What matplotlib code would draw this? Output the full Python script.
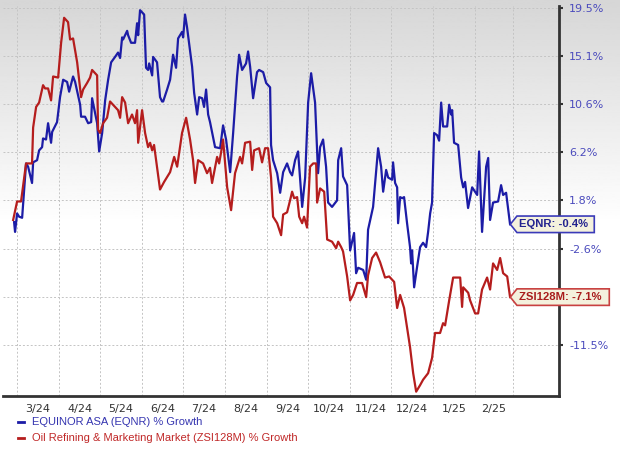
import numpy as np
import pandas as pd
import matplotlib
matplotlib.use('Agg')
import matplotlib.pyplot as plt
from matplotlib.patches import Polygon
from matplotlib.lines import Line2D

# days since 2024-03-01, % growth
eqnr_days = [-2.2, -1.5, 0, 1.5, 3.7, 6.6, 8.1, 11.0, 11.8, 14.7, 16.2, 18.4, 19.1, 21.3, 22.8, 25.0, 25.8,
             29.4, 31.6, 33.9, 36.8, 38.3, 41.2, 42.7, 46.4, 47.1, 50.0, 52.3, 54.5, 55.2, 58.9, 60.4, 62.6,
             64.8, 67.0, 69.2, 72.1, 74.3, 75.8, 77.3, 78.0, 81.0, 81.7, 83.9, 86.8, 88.3, 89.1, 90.5, 93.5,
             94.9, 96.4, 97.2, 99.4, 100.1, 103.0, 105.2, 106.7, 107.5, 110.4, 112.6, 114.8, 117.0, 118.5,
             121.4, 122.2, 123.6, 125.1, 128.8, 130.3, 132.5, 134.0, 136.2, 137.6, 139.1, 140.6, 142.0,
             145.7, 149.4, 151.6, 153.8, 156.8, 159.0, 161.9, 163.4, 165.6, 168.5, 170.0, 171.5, 173.7,
             176.6, 178.1, 181.1, 183.3, 186.2, 186.9, 188.4, 191.4, 193.6, 195.8, 198.7, 200.9, 202.4,
             204.6, 206.8, 209.8, 212.0, 214.2, 216.4, 219.3, 221.5, 223.0, 225.2, 227.4, 228.9, 231.8,
             235.5, 236.3, 238.5, 239.9, 242.9, 245.1, 248.0, 249.5, 251.0, 254.7, 256.9, 258.3, 262.0,
             265.7, 267.9, 269.4, 271.6, 273.1, 276.0, 276.7, 278.2, 279.7, 280.4, 281.9, 283.4, 284.8,
             287.0, 289.2, 290.0, 290.7, 292.2, 294.4, 296.6, 298.8, 301.0, 302.5, 304.0, 305.4, 306.9,
             309.1, 310.6, 312.1, 313.5, 316.5, 318.0, 319.4, 320.2, 321.6, 324.6, 326.8, 328.3, 329.7,
             331.9, 334.9, 338.6, 340.0, 342.2, 345.2, 346.7, 348.1, 350.3, 354.0, 356.2, 357.7, 359.9, 362.8]
eqnr = [-0.2, -1.1, 0.6, 0.3, 0.2, 5.2, 4.9, 3.4, 5.3, 5.5, 6.4, 6.7, 7.5, 7.4, 8.9, 7.1, 8.1,
        9.0, 11.3, 12.9, 12.7, 11.8, 13.2, 12.7, 10.6, 9.5, 9.5, 8.9, 9.0, 11.2, 8.9, 6.3, 8.0,
        11.0, 12.9, 14.5, 15.0, 15.4, 14.9, 16.8, 16.6, 17.4, 17.0, 16.3, 16.3, 18.1, 17.0, 19.3, 18.9,
        14.0, 13.8, 14.4, 13.3, 15.0, 14.5, 11.3, 10.9, 10.9, 12.0, 12.9, 15.2, 14.0, 16.7,
        17.3, 16.8, 18.9, 17.7, 14.1, 11.7, 9.7, 11.3, 11.2, 10.4, 12.0, 9.7, 9.0,
        6.7, 6.6, 8.7, 7.4, 4.4, 8.0, 13.2, 15.2, 13.8, 14.4, 15.5, 14.1, 11.2,
        13.6, 13.8, 13.6, 12.6, 12.2, 6.9, 5.5, 4.3, 2.5, 4.4, 5.2, 4.4, 4.1,
        5.5, 6.3, 1.2, 3.9, 10.8, 13.5, 10.8, 4.3, 6.7, 7.4, 4.9, 1.6, 1.2,
        1.8, 5.5, 6.6, 4.0, 3.2, -2.8, -1.2, -4.9, -4.4, -4.6, -5.5, -0.9, 1.2,
        6.6, 4.9, 2.6, 4.6, 3.9, 3.7, 5.3, 3.4, 3.0, -0.3, 2.1, 2.0, 2.1,
        -0.3, -2.5, -4.0, -2.8, -6.2, -4.3, -2.5, -2.1, -2.5, -1.1, 0.6, 1.6, 8.0,
        7.8, 7.3, 10.8, 8.6, 8.6, 10.6, 9.7, 10.1, 7.1, 6.9, 3.9, 3.0, 3.5,
        1.1, 3.0, 2.3, 6.3, -1.1, 4.9, 5.7, 0.0, 1.6, 1.7, 3.2, 2.3, 2.5, -0.4]

zsi_days = [-2.9, 0, 2.9, 6.6, 11.0, 11.8, 14.0, 16.2, 19.1, 20.6, 22.8, 25.0, 26.5, 30.2, 32.4, 34.6,
            37.5, 39.0, 41.2, 44.2, 47.1, 48.6, 51.5, 53.7, 55.2, 58.9, 59.6, 61.1, 63.3, 66.2, 68.4,
            72.1, 74.3, 75.8, 77.3, 79.5, 81.7, 84.6, 86.8, 88.3, 89.1, 92.0, 94.2, 96.4, 97.9, 99.4,
            100.8, 105.2, 108.2, 111.1, 112.6, 114.1, 115.6, 117.8, 121.4, 124.4, 127.3, 129.5, 131.0,
            133.2, 136.9, 139.8, 142.0, 143.5, 147.2, 148.7, 150.1, 151.6, 154.6, 157.5, 160.4, 164.1,
            165.6, 167.8, 171.5, 173.0, 174.4, 178.1, 180.3, 182.5, 184.7, 186.9, 188.4, 191.4, 194.3,
            195.8, 198.7, 200.9, 202.4, 203.9, 206.1, 207.6, 209.8, 211.2, 213.4, 215.6, 217.9, 220.1,
            220.8, 223.0, 226.0, 228.2, 231.8, 234.8, 236.3, 238.5, 239.9, 242.9, 245.1, 247.3, 250.2,
            253.9, 256.9, 258.3, 261.3, 264.2, 267.2, 270.8, 273.8, 277.5, 279.7, 281.9, 284.8, 287.0,
            289.2, 291.5, 293.7, 296.6, 298.8, 302.5, 305.4, 307.6, 311.3, 313.5, 315.0, 318.0, 320.9,
            326.1, 327.5, 328.3, 332.0, 333.4, 337.1, 339.3, 342.2, 345.9, 348.1, 350.3, 353.3, 355.5,
            357.7, 360.7, 362.8]
zsi = [0.0, 1.7, 1.7, 5.2, 5.2, 8.5, 10.4, 10.8, 12.4, 12.1, 12.1, 11.0, 13.2, 13.1, 16.3, 18.6,
       18.2, 16.6, 16.7, 14.5, 11.3, 12.0, 12.6, 13.1, 13.8, 13.3, 8.3, 8.0, 8.9, 9.4, 10.9,
       10.4, 10.1, 9.4, 11.3, 10.8, 8.9, 9.7, 8.9, 10.1, 7.1, 10.1, 8.0, 6.7, 7.1, 6.4,
       6.9, 2.8, 3.5, 4.1, 4.4, 5.1, 5.8, 4.9, 8.0, 9.4, 7.4, 5.5, 3.4,
       5.5, 5.2, 4.3, 4.8, 3.4, 5.8, 5.2, 6.2, 7.4, 3.0, 0.9, 4.3, 5.8,
       5.2, 7.1, 7.2, 4.6, 6.4, 6.6, 5.3, 6.6, 6.6, 3.9, 0.3, -0.3, -1.4,
       0.5, 0.7, 1.8, 2.6, 2.0, 2.1, 0.3, -0.3, 0.3, -0.7, 4.9, 5.2, 5.2,
       1.6, 2.9, 2.6, -1.8, -2.0, -2.6, -2.0, -2.5, -2.9, -5.2, -7.4, -6.9, -5.8,
       -5.8, -7.1, -5.1, -3.5, -3.0, -3.9, -5.3, -5.2, -5.7, -8.1, -6.9, -8.1, -9.9,
       -11.7, -14.1, -15.8, -15.2, -14.7, -14.1, -12.7, -10.4, -10.4, -9.5, -9.7, -7.4, -5.3,
       -5.3, -8.0, -6.2, -6.7, -7.4, -8.6, -8.6, -6.4, -5.3, -6.4, -4.0, -4.6, -3.5,
       -4.9, -5.2, -7.1]

ytick_vals = [-11.5, -7.07, -2.64, 1.79, 6.21, 10.64, 15.07, 19.5]
ytick_labels = ['-11.5%', '', '-2.6%', '1.8%', '6.2%', '10.6%', '15.1%', '19.5%']
month_labels = ['3/24', '4/24', '5/24', '6/24', '7/24', '8/24', '9/24', '10/24', '11/24', '12/24', '1/25', '2/25']

blue = '#1c1ca6'
red = '#b51d1d'

base = pd.Timestamp('2024-03-01')
month_starts = (pd.date_range('2024-03-01', '2025-03-01', freq='MS') - base).days.values.astype(float)
month_mids = (month_starts[:-1] + month_starts[1:]) / 2

fig = plt.figure(figsize=(6.2, 4.49), dpi=100)

# grey-to-white background
bg = fig.add_axes([0, 0, 1, 1], zorder=0)
grad = np.clip(0.84 + 0.16 * np.linspace(0, 1, 300) / 0.5, 0, 1).reshape(-1, 1)
bg.imshow(grad, aspect='auto', extent=[0, 1, 0, 1], cmap='gray', vmin=0, vmax=1)
bg.axis('off')

ax = fig.add_axes([0.005, 0.118, 0.897, 0.869], zorder=1)
ax.set_facecolor('none')

ax.plot(eqnr_days, eqnr, color=blue, lw=1.6, zorder=3)
ax.plot(zsi_days, zsi, color=red, lw=1.6, zorder=3)

ax.set_xlim(-10.3, 399)
ax.set_ylim(-16.2, 19.7)

ax.set_xticks(month_starts)
ax.set_xticklabels([])
ax.set_xticks(month_mids, minor=True)
ax.set_xticklabels(month_labels, minor=True)
ax.tick_params(axis='x', which='both', length=0, pad=6, labelsize=8, labelcolor='#333333')

ax.yaxis.tick_right()
ax.set_yticks(ytick_vals)
ax.set_yticklabels(ytick_labels)
ax.tick_params(axis='y', length=3, width=1.5, color='#333333', pad=4, labelsize=8, labelcolor='#4b4bbd')

ax.grid(True, which='major', color='#c4c4c4', linestyle=(0, (2, 2)), linewidth=0.7)
for s in ['left', 'top']:
    ax.spines[s].set_visible(False)
for s in ['right', 'bottom']:
    ax.spines[s].set_color('#333333')
    ax.spines[s].set_linewidth(2)

# end-value tags
def tag(yval, width, text, ec, tc):
    trans = ax.get_yaxis_transform()
    h = 0.76
    x0, x1 = 0.912, 0.924
    pts = [(x0, yval), (x1, yval + h), (x0 + width, yval + h), (x0 + width, yval - h), (x1, yval - h)]
    ax.add_patch(Polygon(pts, closed=True, transform=trans, facecolor='#f4f1dd', edgecolor=ec,
                         lw=1.2, clip_on=False, zorder=5))
    ax.text(x1 + 0.004, yval, text, transform=trans, ha='left', va='center', fontsize=8.1,
            fontweight='bold', color=tc, family='Liberation Sans', zorder=6, clip_on=False)

tag(eqnr[-1], 0.151, 'EQNR: -0.4%', '#3a3ab8', '#22228f')
tag(zsi[-1], 0.178, 'ZSI128M: -7.1%', '#c84040', '#a81c1c')

# legend
fig.add_artist(Line2D([18 / 620, 24 / 620], [1 - 422 / 449] * 2, color=blue, lw=2))
fig.add_artist(Line2D([18 / 620, 24 / 620], [1 - 438 / 449] * 2, color=red, lw=2))
fig.text(32 / 620, 1 - 422 / 449, 'EQUINOR ASA (EQNR) % Growth', color='#3535b0',
         fontsize=8, family='Liberation Sans', va='center')
fig.text(32 / 620, 1 - 438 / 449, 'Oil Refining & Marketing Market (ZSI128M) % Growth', color='#c02828',
         fontsize=8, family='Liberation Sans', va='center')

fig.savefig('out.png', dpi=100)
